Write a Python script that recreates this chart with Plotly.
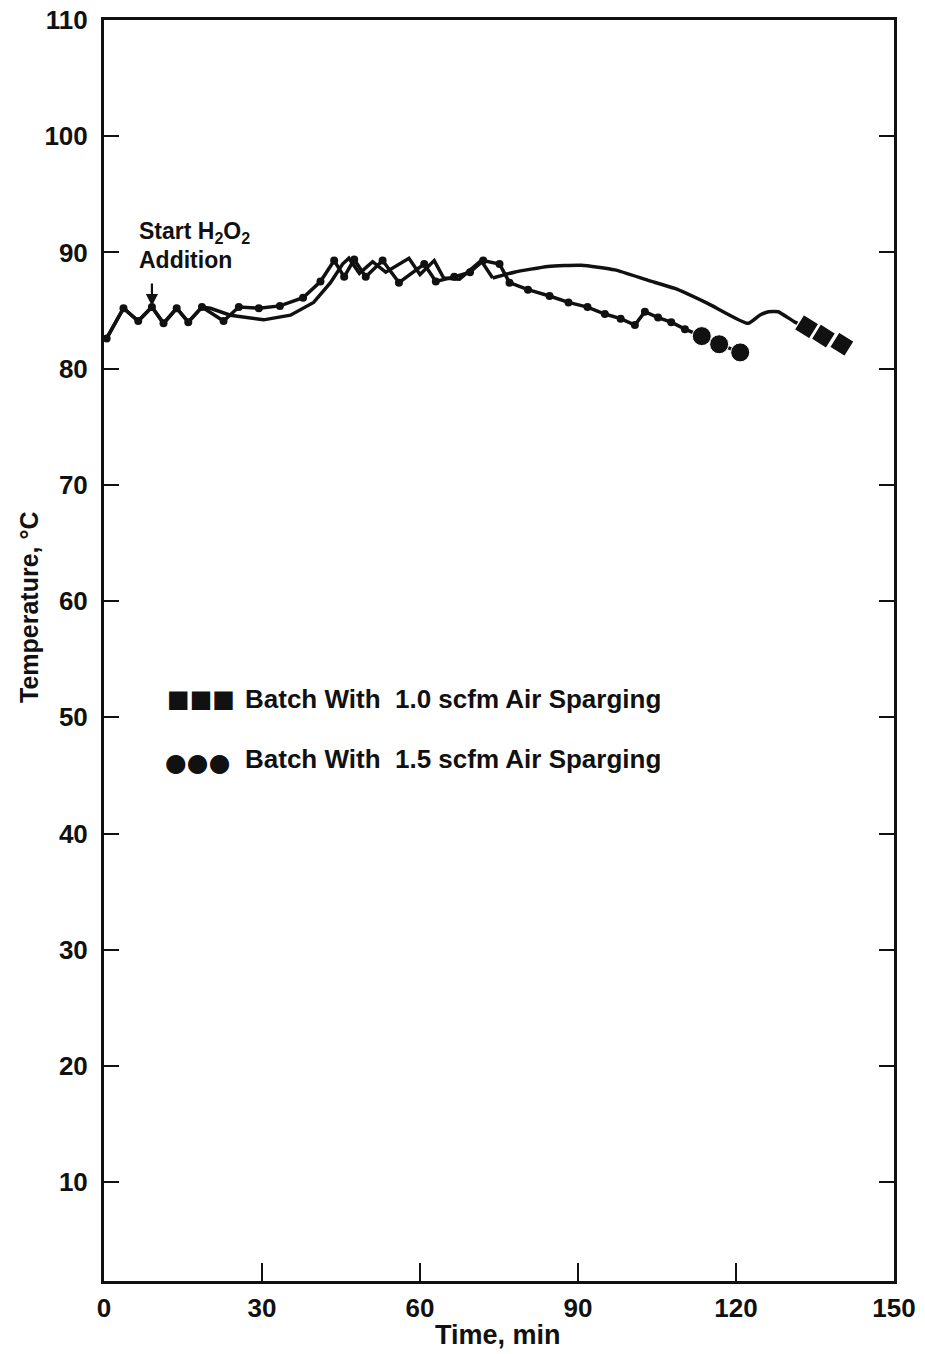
import plotly.graph_objects as go

# Batch with 1.5 scfm air sparging (line with small dots), minutes / deg C
a_time = [0.5, 3.7, 6.5, 9.1, 11.3, 13.8, 16.0, 18.6, 22.7, 25.6, 29.4, 33.4, 37.8, 41.1,
          43.7, 45.6, 47.5, 49.7, 52.9, 56.0, 60.8, 63.0, 66.5, 69.5, 72.0, 75.1, 77.0,
          80.5, 84.6, 88.2, 91.8, 95.1, 98.1, 100.8, 102.7, 105.2, 107.7, 110.3]
a_temp = [82.6, 85.2, 84.1, 85.3, 83.9, 85.2, 84.0, 85.3, 84.1, 85.3, 85.2, 85.4, 86.1, 87.5,
          89.3, 87.9, 89.4, 87.9, 89.3, 87.4, 89.0, 87.5, 87.9, 88.3, 89.3, 89.0, 87.4,
          86.8, 86.25, 85.7, 85.3, 84.7, 84.3, 83.75, 84.9, 84.4, 84.0, 83.4]
circ_time = [113.5, 116.8, 120.8]
circ_temp = [82.8, 82.1, 81.4]

# Batch with 1.0 scfm air sparging (plain line)
b_time = [0.5, 3.7, 6.5, 9.1, 11.3, 13.8, 16.0, 18.6, 20.2, 24.0, 30.3, 35.4, 39.8, 43.0,
          45.3, 46.5, 48.5, 51.0, 53.5, 57.9, 60.0, 62.7, 64.5, 67.5, 71.6, 73.8]
b_temp = [82.6, 85.2, 84.1, 85.3, 83.9, 85.2, 84.0, 85.3, 85.2, 84.6, 84.2, 84.6, 85.7, 87.4,
          89.0, 89.5, 88.2, 89.2, 88.3, 89.5, 88.1, 89.3, 87.8, 87.7, 89.3, 87.8]
b_arc_time = [73.8, 77.9, 84.3, 90.6, 97.0, 103.3, 108.4, 114.7, 122.3, 124.5, 126.2, 128.0, 131.2, 133.4]
b_arc_temp = [87.8, 88.3, 88.8, 88.9, 88.5, 87.6, 86.9, 85.6, 83.9, 84.6, 84.9, 84.9, 84.0, 83.6]
sq_time = [133.4, 136.6, 140.1]
sq_temp = [83.6, 82.8, 82.1]

x_ticks = [0, 30, 60, 90, 120, 150]
y_ticks = [10, 20, 30, 40, 50, 60, 70, 80, 90, 100, 110]

FONT = "Liberation Sans"
BLACK = "#111111"
LW = 3.5

fig = go.Figure()

fig.add_trace(go.Scatter(x=b_time, y=b_temp, mode="lines",
                         line=dict(color=BLACK, width=LW), showlegend=False))
fig.add_trace(go.Scatter(x=b_arc_time, y=b_arc_temp, mode="lines",
                         line=dict(color=BLACK, width=LW, shape="spline", smoothing=0.5),
                         showlegend=False))
fig.add_trace(go.Scatter(x=sq_time, y=sq_temp, mode="markers",
                         marker=dict(symbol="square", size=18, color=BLACK, angle=32,
                                     line=dict(color="white", width=1.5)),
                         showlegend=False))

fig.add_trace(go.Scatter(x=a_time + circ_time, y=a_temp + circ_temp, mode="lines",
                         line=dict(color=BLACK, width=LW), showlegend=False))
fig.add_trace(go.Scatter(x=a_time, y=a_temp, mode="markers",
                         marker=dict(symbol="circle", size=8, color=BLACK), showlegend=False))
fig.add_trace(go.Scatter(x=circ_time, y=circ_temp, mode="markers",
                         marker=dict(symbol="circle", size=19, color=BLACK,
                                     line=dict(color="white", width=1)),
                         showlegend=False))

# the page margin is removed by a post script, so page pixels == figure pixels
W, H = 925, 1354
# plot box in page pixels
PX_L, PX_R, PX_T, PX_B = 104, 894, 20, 1281
L, R, T, B = PX_L, W - PX_R, PX_T, H - PX_B
pw, ph = W - L - R, H - T - B


def px(xp, yp):
    return ((xp - L) / pw, 1 - (yp - T) / ph)


def bold(size):
    return dict(family=FONT, size=size, color=BLACK, weight="bold")


ann = []
x0, y0 = px(137, 232)
ann.append(dict(x=x0, y=y0, xref="paper", yref="paper", xanchor="left", yanchor="middle",
                text="Start H<sub>2</sub>O<sub>2</sub>", showarrow=False, font=bold(23)))
x0, y0 = px(137, 260)
ann.append(dict(x=x0, y=y0, xref="paper", yref="paper", xanchor="left", yanchor="middle",
                text="Addition", showarrow=False, font=bold(23)))
_, y0 = px(0, 306)
ann.append(dict(x=9.1, y=y0, xref="x", yref="paper", ax=0, ay=-24,
                text="", showarrow=True, arrowhead=2, arrowsize=1.1, arrowwidth=2.2,
                arrowcolor=BLACK))
# legend
x0, y0 = px(165, 699)
ann.append(dict(x=x0, y=y0, xref="paper", yref="paper", text="■■■", showarrow=False,
                xanchor="left", yanchor="middle",
                font=dict(family="DejaVu Sans", size=24, color=BLACK)))
x0, y0 = px(243, 699)
ann.append(dict(x=x0, y=y0, xref="paper", yref="paper",
                text="Batch With  1.0 scfm Air Sparging", showarrow=False,
                xanchor="left", yanchor="middle", font=bold(26)))
x0, y0 = px(163, 762)
ann.append(dict(x=x0, y=y0, xref="paper", yref="paper", text="●●●", showarrow=False,
                xanchor="left", yanchor="middle",
                font=dict(family="DejaVu Sans", size=25, color=BLACK)))
x0, y0 = px(243, 759)
ann.append(dict(x=x0, y=y0, xref="paper", yref="paper",
                text="Batch With  1.5 scfm Air Sparging", showarrow=False,
                xanchor="left", yanchor="middle", font=bold(26)))
# y title
x0, y0 = px(29, 607)
ann.append(dict(x=x0, y=y0, xref="paper", yref="paper", text="Temperature, °C",
                showarrow=False, textangle=-90, xanchor="center", yanchor="middle",
                font=bold(25)))
# x title
x0, y0 = px(498, 1335)
ann.append(dict(x=x0, y=y0, xref="paper", yref="paper", text="Time, min",
                showarrow=False, xanchor="center", yanchor="middle", font=bold(27)))

fig.update_layout(
    width=W, height=H,
    margin=dict(l=L, r=R, t=T, b=B, autoexpand=False),
    paper_bgcolor="white", plot_bgcolor="white",
    annotations=ann,
    font=dict(family=FONT, color=BLACK),
)
fig.update_xaxes(range=[0, 150], tickvals=x_ticks, ticktext=[str(v) for v in x_ticks],
                 showgrid=False, zeroline=False, showline=True, linewidth=3, linecolor=BLACK,
                 mirror=True, ticks="inside", ticklen=18, tickwidth=2, tickcolor=BLACK,
                 ticklabelstandoff=2, ticklabeloverflow="allow", tickfont=bold(26))
fig.update_yaxes(range=[1.5, 110], tickvals=y_ticks, ticktext=[str(v) for v in y_ticks],
                 showgrid=False, zeroline=False, showline=True, linewidth=3, linecolor=BLACK,
                 mirror="ticks", ticks="inside", ticklen=15, tickwidth=2, tickcolor=BLACK,
                 ticklabelstandoff=8, ticklabeloverflow="allow", tickfont=bold(26))

fig.write_html("out.html",
               config={"displayModeBar": False},
               post_script="document.body.style.margin='0';document.body.style.padding='0';")
